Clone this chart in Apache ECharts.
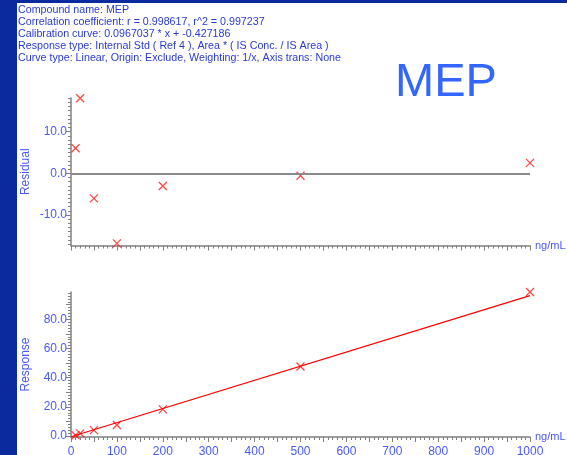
<!DOCTYPE html>
<html>
<head>
<meta charset="utf-8">
<title>MEP calibration</title>
<script src="https://cdn.jsdelivr.net/npm/echarts@6/dist/echarts.min.js"></script>
<style>
  html, body { margin: 0; padding: 0; background: #ffffff; }
  #chart { width: 567px; height: 455px; }
</style>
</head>
<body>
<div id="chart"></div>
<script>
// Calibration levels (ng/mL)
const concentrations = [10, 20, 50, 100, 200, 500, 1000];
// Residuals (%) of each level against the fitted curve
const residuals = [6.0, 18.0, -6.0, -16.8, -3.05, -0.6, 2.5];
// Measured response (area ratio * IS conc.)
const responses = [0.60, 1.86, 4.12, 7.62, 18.32, 47.64, 98.69];
// Fitted linear curve: response = slope * x + intercept
const slope = 0.0967037;
const intercept = -0.427186;
const curveX = [0, 1000];

const headerLines = [
  'Compound name: MEP',
  'Correlation coefficient: r = 0.998617, r^2 = 0.997237',
  'Calibration curve: 0.0967037 * x + -0.427186',
  'Response type: Internal Std ( Ref 4 ), Area * ( IS Conc. / IS Area )',
  'Curve type: Linear, Origin: Exclude, Weighting: 1/x, Axis trans: None'
];
const compoundTitle = 'MEP';

const residualLabels = [-10, 0, 10];
const responseLabels = [0, 20, 40, 60, 80];
const xUnit = 'ng/mL';

const axisGray = '#808080';
const labelBlue = '#4a58ff';
const textBlue = '#2a3bd4';
const fontFam = '"Liberation Sans", Arial, sans-serif';

function range(a, b, step) {
  const out = [];
  for (let v = a; v <= b + 1e-9; v += step) out.push(Math.round(v * 1000) / 1000);
  return out;
}

const crossSymbol = 'path://M0,0L10,10M10,0L0,10';

const chart = echarts.init(document.getElementById('chart'), null, { renderer: 'canvas' });

const resMin = -17.3, resMax = 18.05;
const rspMin = -0.6, rspMax = 98.69;

function xAxisBase(gridIndex, showLabels) {
  return {
    type: 'value', gridIndex: gridIndex, min: 0, max: 1000, interval: 50,
    position: 'bottom',
    name: xUnit, nameLocation: 'end', nameGap: 5,
    nameTextStyle: { color: labelBlue, fontFamily: fontFam, fontSize: 11, verticalAlign: 'middle' },
    axisLine: { show: true, onZero: false, lineStyle: { color: axisGray, width: 1.5 } },
    axisTick: { show: true, length: 5, lineStyle: { color: axisGray } },
    minorTick: { show: true, splitNumber: 5, length: 3, lineStyle: { color: axisGray } },
    splitLine: { show: false },
    axisLabel: {
      show: showLabels, margin: 9, color: labelBlue, fontFamily: fontFam, fontSize: 12,
      formatter: v => (v % 100 === 0 ? String(v) : '')
    }
  };
}

function yMajor(gridIndex, min, max, labels, ticks, name) {
  return {
    type: 'value', gridIndex: gridIndex, min: min, max: max, position: 'left',
    name: name, nameLocation: 'middle', nameGap: 39, nameRotate: 90,
    nameMoveOverlap: false,
    nameTextStyle: { color: labelBlue, fontFamily: fontFam, fontSize: 12 },
    axisLine: { show: true, onZero: false, lineStyle: { color: axisGray, width: 1.5 } },
    axisTick: { show: true, length: 5, customValues: ticks, lineStyle: { color: axisGray } },
    splitLine: { show: false },
    axisLabel: {
      show: true, margin: 4, color: labelBlue, fontFamily: fontFam, fontSize: 12,
      customValues: labels, formatter: v => Number(v).toFixed(1)
    }
  };
}

function yMinor(gridIndex, min, max, ticks) {
  return {
    type: 'value', gridIndex: gridIndex, min: min, max: max, position: 'left',
    axisLine: { show: false },
    axisTick: { show: true, length: 3, customValues: ticks, lineStyle: { color: axisGray } },
    splitLine: { show: false },
    axisLabel: { show: false }
  };
}

const headerGraphics = headerLines.map((t, i) => ({
  type: 'text', left: 18, top: 5 + i * 11.9,
  style: { text: t, fill: textBlue, font: '10.7px ' + fontFam }
}));

chart.setOption({
  animation: false,
  backgroundColor: '#ffffff',
  graphic: [
    { type: 'rect', left: 0, top: 0, shape: { width: 567, height: 3 }, style: { fill: '#0a2a9e' } },
    { type: 'rect', left: 0, top: 0, shape: { width: 17, height: 455 }, style: { fill: '#0a2a9e' } },
    ...headerGraphics,
    { type: 'text', left: 395, top: 60,
      style: { text: compoundTitle, fill: '#3366ff', font: '47px ' + fontFam } }
  ],
  grid: [
    { left: 71, top: 98, width: 459, height: 147.5, outerBoundsMode: 'none', containLabel: false },
    { left: 71, top: 292, width: 459, height: 145, outerBoundsMode: 'none', containLabel: false }
  ],
  xAxis: [xAxisBase(0, false), xAxisBase(1, true)],
  yAxis: [
    yMajor(0, resMin, resMax, residualLabels, range(-10, 10, 10), 'Residual'),
    yMinor(0, resMin, resMax, range(-17, 18, 1)),
    yMajor(1, rspMin, rspMax, responseLabels, range(0, 90, 10), 'Response'),
    yMinor(1, rspMin, rspMax, range(0, 98, 2))
  ],
  series: [
    {
      type: 'scatter', xAxisIndex: 0, yAxisIndex: 0,
      data: concentrations.map((c, i) => [c, residuals[i]]),
      symbol: crossSymbol, symbolSize: 8,
      itemStyle: { color: 'none', borderColor: '#ff1a1a', borderWidth: 1.3 },
      markLine: {
        silent: true, symbol: ['none', 'none'], label: { show: false },
        lineStyle: { color: '#8a8a8a', width: 2, type: 'solid' },
        data: [{ yAxis: 0 }]
      }
    },
    {
      type: 'line', xAxisIndex: 1, yAxisIndex: 2,
      data: curveX.map(x => [x, slope * x + intercept]),
      showSymbol: false, lineStyle: { color: '#ff0000', width: 1.3 }
    },
    {
      type: 'scatter', xAxisIndex: 1, yAxisIndex: 2,
      data: concentrations.map((c, i) => [c, responses[i]]),
      symbol: crossSymbol, symbolSize: 8,
      itemStyle: { color: 'none', borderColor: '#ff1a1a', borderWidth: 1.3 }
    }
  ]
});
</script>
</body>
</html>
